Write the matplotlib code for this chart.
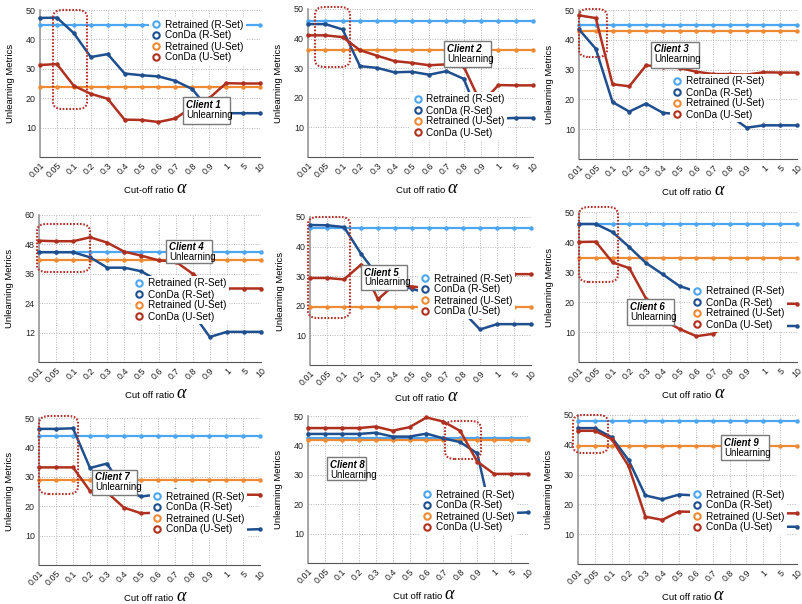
import matplotlib
matplotlib.use("Agg")
import matplotlib.pyplot as plt
from matplotlib.lines import Line2D
from matplotlib.patches import FancyBboxPatch
import numpy as np

plt.rcParams['font.family'] = ['Liberation Sans', 'DejaVu Sans']

W, H = 803, 604

ratios = ["0.01", "0.05", "0.1", "0.2", "0.3", "0.4", "0.5", "0.6", "0.7",
          "0.8", "0.9", "1", "5", "10"]

# Retrained baselines (constant across alpha)
retrained_r = [45.0, 45.8, 45.1, 45.0, 46.3, 46.1, 43.8, 42.4, 48.0]
retrained_u = [23.8, 36.1, 43.0, 41.7, 19.7, 34.7, 29.0, 41.7, 39.6]

conda_r_c1 = [47.3, 47.4, 42.1, 34.0, 35.0, 28.4, 27.8, 27.4, 25.9, 23.1, 16.0, 14.9, 14.9, 14.9]
conda_u_c1 = [31.3, 31.6, 24.2, 21.5, 19.8, 12.7, 12.6, 11.9, 13.1, 17.0, 20.0, 25.1, 25.0, 25.0]

conda_r_c2 = [44.9, 44.9, 43.1, 30.7, 30.1, 28.6, 28.8, 27.8, 29.0, 26.4, 12.0, 13.0, 13.2, 13.2]
conda_u_c2 = [41.1, 41.1, 40.5, 36.1, 34.2, 32.4, 31.8, 31.0, 31.3, 30.5, 18.0, 24.3, 24.2, 24.2]

conda_r_c3 = [43.5, 37.0, 19.1, 15.9, 18.6, 15.5, 15.0, 14.5, 14.1, 14.5, 10.5, 11.3, 11.3, 11.3]
conda_u_c3 = [48.2, 47.3, 25.1, 24.4, 31.4, 31.0, 30.5, 29.3, 28.5, 28.5, 28.3, 29.1, 29.0, 29.0]

conda_r_c4 = [44.8, 44.8, 44.8, 42.7, 38.5, 38.5, 37.0, 33.0, 28.0, 20.0, 10.2, 12.3, 12.3, 12.3]
conda_u_c4 = [49.5, 49.3, 49.3, 50.9, 48.7, 45.0, 43.4, 41.5, 41.0, 36.0, 30.5, 30.0, 30.0, 30.0]

conda_r_c5 = [47.3, 47.2, 46.6, 37.6, 30.0, 27.0, 25.8, 24.0, 22.0, 18.0, 12.0, 13.8, 13.8, 13.8]
conda_u_c5 = [29.4, 29.4, 28.9, 33.9, 22.2, 27.3, 26.5, 26.0, 25.0, 22.0, 16.1, 30.0, 30.7, 30.7]

conda_r_c6 = [46.0, 46.0, 43.3, 38.3, 33.0, 29.2, 25.3, 23.5, 21.0, 17.0, 13.0, 12.0, 12.0, 12.0]
conda_u_c6 = [40.0, 40.1, 33.2, 31.3, 21.1, 14.0, 11.0, 8.6, 9.4, 13.0, 17.0, 19.0, 19.4, 19.4]

conda_r_c7 = [46.3, 46.3, 46.5, 33.0, 34.5, 25.6, 23.3, 24.0, 25.5, 25.0, 10.6, 11.5, 12.0, 12.2]
conda_u_c7 = [33.2, 33.2, 33.2, 25.2, 24.7, 19.5, 17.6, 17.8, 18.5, 20.0, 22.0, 23.5, 23.9, 23.9]

conda_r_c8 = [43.9, 43.9, 43.9, 43.9, 44.3, 43.0, 43.0, 44.0, 42.4, 41.1, 37.3, 12.0, 17.0, 17.2]
conda_u_c8 = [45.9, 45.9, 45.9, 45.9, 46.4, 45.0, 46.2, 49.5, 48.1, 44.9, 34.5, 30.3, 30.3, 30.3]

conda_r_c9 = [45.6, 45.6, 42.5, 34.9, 23.0, 21.7, 23.3, 23.0, 22.0, 19.0, 15.0, 13.0, 12.5, 12.5]
conda_u_c9 = [44.7, 44.7, 41.9, 32.9, 15.9, 14.8, 17.6, 17.5, 17.3, 17.2, 17.1, 17.0, 17.0, 17.0]

conda_r = [conda_r_c1, conda_r_c2, conda_r_c3, conda_r_c4, conda_r_c5,
           conda_r_c6, conda_r_c7, conda_r_c8, conda_r_c9]
conda_u = [conda_u_c1, conda_u_c2, conda_u_c3, conda_u_c4, conda_u_c5,
           conda_u_c6, conda_u_c7, conda_u_c8, conda_u_c9]

y_max = [50, 50, 50, 60, 50, 50, 50, 50, 50]
y_step = [10, 10, 10, 12, 10, 10, 10, 10, 10]

# Panel geometry in pixels: axes (left, top, right, bottom),
# legend top-left, client box (x0, y0, x1, y1), highlight box (x0, y0, x1, y1)
axes_px = [(40, 10, 260, 157), (308, 9, 533, 157), (579, 10, 797, 159),
           (39, 215, 261, 362), (310, 217, 531, 365), (579, 212, 797, 362),
           (39, 418, 260, 565), (308, 416, 528, 563), (578, 415, 797, 564)]
legend_px = [(149, 17), (410, 92), (670, 74), (132, 276), (418, 271),
             (690, 284), (150, 489), (420, 487), (690, 487)]
client_px = [(183, 97, 230, 124), (444, 41, 491, 67), (651, 42, 699, 68),
             (166, 240, 212, 263), (361, 265, 407, 290), (627, 299, 674, 325),
             (92, 470, 137, 495), (327, 457, 366, 480), (721, 435, 769, 460)]
highlight_px = [(53, 10, 87, 109), (315, 7, 350, 67), (579, 9, 607, 57),
                (37, 224, 90, 272), (308, 217, 350, 318), (579, 207, 618, 282),
                (39, 416, 78, 494), (445, 421, 481, 459), (573, 415, 608, 453)]

c_ret_r = "#4da6f2"
c_con_r = "#1f4f8e"
c_ret_u = "#ef8a34"
c_con_u = "#b0301f"
c_dot = "#b4302a"


def fig_rect(x0, y0, x1, y1):
    return x0 / W, 1 - y1 / H, (x1 - x0) / W, (y1 - y0) / H


fig = plt.figure(figsize=(W / 100, H / 100), dpi=100)
xs = np.arange(len(ratios))

for k in range(9):
    l, t, r, b = axes_px[k]
    ax = fig.add_axes(fig_rect(l, t, r, b))
    n = len(ratios)
    ax.plot(xs, [retrained_r[k]] * n, color=c_ret_r, lw=1.6, marker='o', ms=2.2, zorder=3, clip_on=False)
    ax.plot(xs, [retrained_u[k]] * n, color=c_ret_u, lw=1.6, marker='o', ms=2.2, zorder=3, clip_on=False)
    ax.plot(xs, conda_r[k], color=c_con_r, lw=1.8, marker='o', ms=2.2, zorder=4, clip_on=False)
    ax.plot(xs, conda_u[k], color=c_con_u, lw=1.8, marker='o', ms=2.2, zorder=4, clip_on=False)

    ax.set_xlim(0, n - 1)
    ax.set_ylim(0, y_max[k])
    ticks = np.arange(0, y_max[k] + 1, y_step[k])
    ax.set_yticks(ticks)
    ax.set_yticklabels([""] + [str(v) for v in ticks[1:]])
    ax.set_xticks(xs)
    ax.set_xticklabels(ratios, rotation=45, ha='right', rotation_mode='anchor')
    ax.tick_params(axis='both', length=0, labelsize=6.4, colors="#222222", pad=3)
    ax.grid(True, color="#b8b8b8", linestyle=(0, (1, 1.5)), lw=0.7)
    ax.set_axisbelow(True)
    for s in ['top', 'right']:
        ax.spines[s].set_visible(False)
    ax.spines['left'].set_color("#9a9a9a")
    ax.spines['left'].set_linewidth(1.2)
    ax.spines['bottom'].set_color("#555555")
    ax.spines['bottom'].set_linewidth(0.8)

    ax.set_ylabel("Unlearning Metrics", fontsize=6.8)
    ax.yaxis.set_label_coords(-25 / (r - l), 0.5)

    lab = "Cut-off ratio " if k == 0 else "Cut off ratio "
    ax.text(0.62, -36 / (b - t), lab, transform=ax.transAxes, ha='right', va='baseline', fontsize=6.8)
    ax.text(0.62, -36 / (b - t), "α", transform=ax.transAxes, ha='left', va='baseline',
            fontsize=13, family='Liberation Serif', style='italic')

    handles = [Line2D([], [], ls='none', marker='o', ms=4.6, mfc='white', mew=1.5, mec=c)
               for c in (c_ret_r, c_con_r, c_ret_u, c_con_u)]
    lx, ly = legend_px[k]
    leg = ax.legend(handles, ["Retrained (R-Set)", "ConDa (R-Set)", "Retrained (U-Set)", "ConDa (U-Set)"],
                    loc='upper left', bbox_to_anchor=(lx / W, 1 - ly / H), bbox_transform=fig.transFigure,
                    fontsize=7.2, frameon=True, framealpha=1, facecolor='white', edgecolor='none',
                    borderpad=0.25, labelspacing=0.1, handletextpad=0.35, handlelength=1.0,
                    borderaxespad=0, fancybox=False)
    leg.set_zorder(6)

    # client caption box
    cx0, cy0, cx1, cy1 = client_px[k]
    fx, fy, fw, fh = fig_rect(cx0, cy0, cx1, cy1)
    shadow = FancyBboxPatch((fx + 1.2 / W, fy - 1.2 / H), fw, fh, boxstyle="square,pad=0",
                            transform=fig.transFigure, fc="#c8c8c8", ec='none', zorder=7)
    box = FancyBboxPatch((fx, fy), fw, fh, boxstyle="square,pad=0", transform=fig.transFigure,
                         fc='white', ec="#7a7a7a", lw=1.0, zorder=8)
    fig.patches.extend([shadow, box])
    fig.text(fx + 3 / W, fy + fh - 2.5 / H, f"Client {k + 1}", ha='left', va='top', fontsize=6.9,
             weight='bold', style='italic', zorder=9)
    fig.text(fx + 3 / W, fy + fh - 12.5 / H, "Unlearning", ha='left', va='top', fontsize=6.9, zorder=9)

    # dotted highlight around the early cut-off region
    hx0, hy0, hx1, hy1 = highlight_px[k]
    fx, fy, fw, fh = fig_rect(hx0, hy0, hx1, hy1)
    hl = FancyBboxPatch((fx, fy), fw, fh, boxstyle="round,pad=0,rounding_size=0.012",
                        transform=fig.transFigure, fc='none', ec=c_dot, lw=1.5,
                        linestyle=(0, (0.8, 0.8)), zorder=10)
    fig.patches.append(hl)

fig.savefig("out.png", dpi=100)
